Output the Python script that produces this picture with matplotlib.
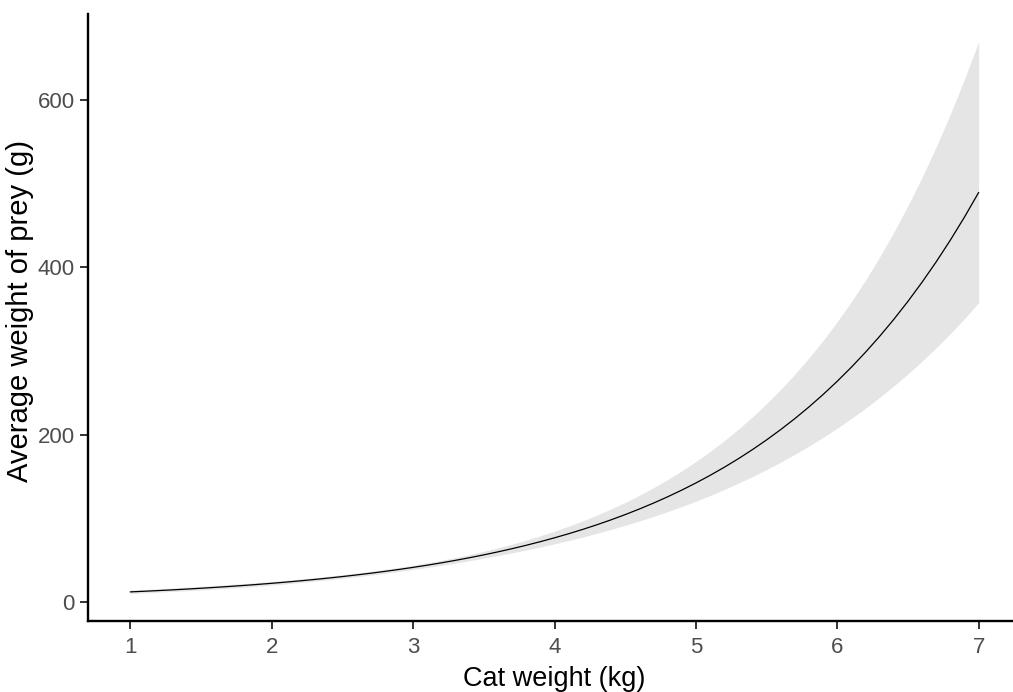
import matplotlib
matplotlib.use("Agg")
import matplotlib.pyplot as plt

plt.rcParams["font.family"] = ["Liberation Sans", "DejaVu Sans"]

# Fitted prey weight against cat weight, with the confidence band
cat_weight = [1.0, 1.1, 1.2, 1.3, 1.4, 1.5, 1.6, 1.7, 1.8, 1.9,
              2.0, 2.1, 2.2, 2.3, 2.4, 2.5, 2.6, 2.7, 2.8, 2.9,
              3.0, 3.1, 3.2, 3.3, 3.4, 3.5, 3.6, 3.7, 3.8, 3.9,
              4.0, 4.1, 4.2, 4.3, 4.4, 4.5, 4.6, 4.7, 4.8, 4.9,
              5.0, 5.1, 5.2, 5.3, 5.4, 5.5, 5.6, 5.7, 5.8, 5.9,
              6.0, 6.1, 6.2, 6.3, 6.4, 6.5, 6.6, 6.7, 6.8, 6.9,
              7.0]
prey_fit = [12.00, 12.77, 13.58, 14.44, 15.37, 16.35, 17.39, 18.50, 19.67, 20.93,
            22.26, 23.68, 25.19, 26.80, 28.51, 30.32, 32.26, 34.31, 36.50, 38.83,
            41.30, 43.93, 46.73, 49.71, 52.88, 56.25, 59.84, 63.65, 67.71, 72.03,
            76.62, 81.51, 86.70, 92.23, 98.11, 104.36, 111.02, 118.09, 125.62, 133.63,
            142.15, 151.21, 160.85, 171.10, 182.01, 193.62, 205.96, 219.09, 233.06, 247.91,
            263.72, 280.53, 298.41, 317.44, 337.67, 359.20, 382.10, 406.46, 432.37, 459.93,
            489.26]
prey_upper = [14.16, 14.96, 15.80, 16.69, 17.63, 18.63, 19.69, 20.80, 21.99, 23.24,
              24.57, 25.99, 27.49, 29.09, 30.80, 32.61, 34.57, 36.65, 38.91, 41.33,
              43.94, 46.77, 49.82, 53.11, 56.67, 60.51, 64.65, 69.10, 73.89, 79.05,
              84.58, 90.52, 96.90, 103.74, 111.08, 118.97, 127.41, 136.48, 146.20, 156.61,
              167.78, 179.77, 192.62, 206.39, 221.13, 236.95, 253.93, 272.11, 291.60, 312.49,
              334.89, 358.91, 384.62, 412.22, 441.81, 473.46, 507.43, 543.92, 582.97, 624.77,
              669.59]
prey_lower = [10.17, 10.89, 11.67, 12.50, 13.39, 14.34, 15.36, 16.44, 17.60, 18.84,
              20.17, 21.58, 23.09, 24.68, 26.38, 28.19, 30.10, 32.12, 34.24, 36.47,
              38.82, 41.27, 43.84, 46.53, 49.34, 52.30, 55.39, 58.63, 62.05, 65.64,
              69.42, 73.39, 77.58, 82.00, 86.65, 91.55, 96.73, 102.18, 107.94, 114.02,
              120.43, 127.18, 134.32, 141.85, 149.82, 158.21, 167.05, 176.40, 186.26, 196.68,
              207.67, 219.27, 231.53, 244.45, 258.08, 272.51, 287.72, 303.73, 320.68, 338.58,
              357.49]
x_ticks = [1, 2, 3, 4, 5, 6, 7]
y_ticks = [0, 200, 400, 600]

W, H = 1013, 692
fig = plt.figure(figsize=(W / 100, H / 100), dpi=100)
ax = fig.add_axes([88 / W, (H - 621) / H, (1021 - 88) / W, (621 - 14) / H])

ax.fill_between(cat_weight, prey_lower, prey_upper, color="#E5E5E5",
                linewidth=0, zorder=1)
ax.plot(cat_weight, prey_fit, color="black", linewidth=0.9, zorder=2)

ax.set_xlim(0.7, 7.3)
ax.set_ylim(-22.8, 702.7)
ax.set_xticks(x_ticks)
ax.set_yticks(y_ticks)

for side in ("top", "right"):
    ax.spines[side].set_visible(False)
for side in ("left", "bottom"):
    ax.spines[side].set_linewidth(1.7)
    ax.spines[side].set_color("black")

ax.tick_params(axis="both", length=5.5, width=1.4, color="#333333",
               labelsize=16, labelcolor="#4D4D4D")
ax.tick_params(axis="x", pad=6)
ax.tick_params(axis="y", pad=4)

ax.set_xlabel("Cat weight (kg)", fontsize=19.5, color="black", labelpad=6)
ax.set_ylabel("Average weight of prey (g)", fontsize=21, color="black")
ax.yaxis.set_label_coords(-0.058, 0.51)

fig.savefig("out.png", dpi=100, facecolor="white")
